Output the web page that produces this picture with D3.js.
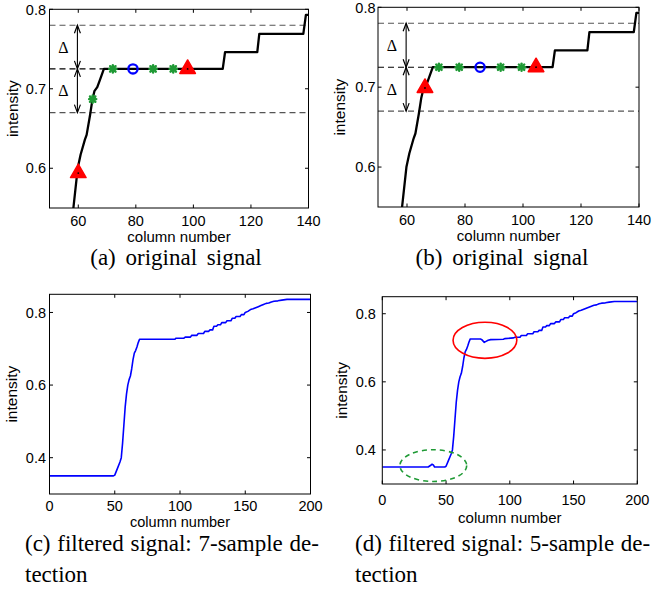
<!DOCTYPE html>
<html>
<head>
<meta charset="utf-8">
<script src="https://cdn.jsdelivr.net/npm/d3@7"></script>
<style>
body{margin:0;background:#fff;}
text{fill:#000;}
</style>
</head>
<body>
<svg id="fig" width="653" height="589"></svg>
<script>
// ---- data ----
// original signal (panels a and b)
const origCols = [57.8, 58.3, 59.8, 60.8, 62.3, 62.9, 64.1, 64.9, 65.6, 66.6, 67.5, 68.9, 110.2, 111, 122.2, 122.9, 138.2, 139.1, 140];
const origVals = [0.53, 0.55, 0.60, 0.617, 0.636, 0.642, 0.667, 0.686, 0.697, 0.702, 0.711, 0.725, 0.725, 0.746, 0.746, 0.769, 0.769, 0.793, 0.793];
const thresholds = [0.78, 0.725, 0.67];

// markers (a)
const aTriangles = [[60, 0.594], [98, 0.725]];
const aStars = [[65, 0.687], [72, 0.725], [86, 0.725], [93, 0.725]];
const aCircles = [[79, 0.725]];
// markers (b)
const bTriangles = [[66.2, 0.699], [104.5, 0.725]];
const bStars = [[71, 0.725], [78, 0.725], [92.3, 0.725], [99.5, 0.725]];
const bCircles = [[85.2, 0.725]];

// filtered signal, 7-sample detection (c)
const cCols = [0, 49, 50, 52, 54, 55, 56, 57, 58, 59, 60, 61, 62, 63, 64, 65, 66, 67, 68, 69, 96, 97, 103, 104, 108, 109, 113, 114, 118, 119, 122, 123, 125, 126, 128, 129, 131, 132, 135, 136, 139, 140, 142, 143, 146, 147, 149, 150, 152, 154, 156, 158, 160, 162, 164, 166, 168, 170, 172, 175, 178, 182, 200];
const cVals = [0.35, 0.35, 0.352, 0.37, 0.388, 0.40, 0.44, 0.49, 0.54, 0.575, 0.60, 0.615, 0.625, 0.645, 0.67, 0.688, 0.695, 0.705, 0.717, 0.726, 0.726, 0.729, 0.729, 0.732, 0.732, 0.737, 0.737, 0.742, 0.742, 0.748, 0.748, 0.752, 0.752, 0.762, 0.762, 0.766, 0.766, 0.772, 0.772, 0.777, 0.777, 0.784, 0.784, 0.789, 0.789, 0.794, 0.794, 0.80, 0.803, 0.808, 0.81, 0.813, 0.816, 0.819, 0.822, 0.825, 0.826, 0.829, 0.831, 0.832, 0.834, 0.836, 0.836];

// filtered signal, 5-sample detection (d)
const dCols = [0, 36, 38, 39, 40, 41, 49, 50, 52, 54, 55, 56, 57, 58, 59, 60, 61, 62, 63, 64, 65, 66, 67, 68, 69, 77, 78, 80, 81, 83, 85, 95, 96, 103, 104, 108, 109, 113, 114, 118, 119, 122, 123, 125, 126, 128, 129, 131, 132, 135, 136, 139, 140, 142, 143, 146, 147, 149, 150, 152, 154, 156, 158, 160, 162, 164, 166, 168, 170, 172, 175, 178, 182, 200];
const dVals = [0.35, 0.35, 0.355, 0.358, 0.356, 0.35, 0.35, 0.352, 0.37, 0.388, 0.40, 0.44, 0.49, 0.54, 0.575, 0.60, 0.615, 0.625, 0.645, 0.67, 0.688, 0.695, 0.705, 0.717, 0.726, 0.726, 0.724, 0.716, 0.718, 0.722, 0.724, 0.725, 0.727, 0.729, 0.731, 0.731, 0.736, 0.736, 0.741, 0.741, 0.747, 0.747, 0.751, 0.751, 0.761, 0.761, 0.765, 0.765, 0.771, 0.771, 0.776, 0.776, 0.783, 0.783, 0.788, 0.788, 0.793, 0.793, 0.80, 0.803, 0.808, 0.81, 0.813, 0.816, 0.819, 0.822, 0.825, 0.826, 0.829, 0.831, 0.832, 0.834, 0.836, 0.836];
const redEllipse = {cx: 80.5, cy: 0.722, rx: 25, ry: 0.053};
const greenEllipse = {cx: 40, cy: 0.354, rx: 26.2, ry: 0.0465};

const abXTicks = [60, 80, 100, 120, 140];
const abYTicks = [0.6, 0.7, 0.8];
const cdXTicks = [0, 50, 100, 150, 200];
const cdYTicks = [0.4, 0.6, 0.8];

const captions = {
  a: ["(a) original signal"],
  b: ["(b) original signal"],
  c: ["(c) filtered signal: 7-sample de-", "tection"],
  d: ["(d) filtered signal: 5-sample de-", "tection"]
};

const svg = d3.select("#fig");
const sans = "'Liberation Sans', Arial, sans-serif";
const serif = "'Liberation Serif', 'Times New Roman', serif";

function makePanel(opt){
  const x = d3.scaleLinear().domain(opt.xDomain).range([opt.left, opt.right]);
  const y = d3.scaleLinear().domain(opt.yDomain).range([opt.bottom, opt.top]);
  const g = svg.append("g").attr("id", "panel-" + opt.id);

  g.append("clipPath").attr("id", "clip-" + opt.id)
    .append("rect")
    .attr("x", opt.left).attr("y", opt.top)
    .attr("width", opt.right - opt.left).attr("height", opt.bottom - opt.top);

  // ticks inward, mirrored on all four sides
  const tl = 3.5;
  opt.xTicks.forEach(t => {
    g.append("line").attr("x1", x(t)).attr("x2", x(t)).attr("y1", opt.bottom).attr("y2", opt.bottom - tl).attr("stroke", "#000");
    g.append("line").attr("x1", x(t)).attr("x2", x(t)).attr("y1", opt.top).attr("y2", opt.top + tl).attr("stroke", "#000");
    g.append("text").attr("x", x(t)).attr("y", opt.bottom + opt.xTickGap)
      .attr("text-anchor", "middle").style("font-family", sans).style("font-size", "14.5px").text(t);
  });
  opt.yTicks.forEach(t => {
    g.append("line").attr("x1", opt.left).attr("x2", opt.left + tl).attr("y1", y(t)).attr("y2", y(t)).attr("stroke", "#000");
    g.append("line").attr("x1", opt.right).attr("x2", opt.right - tl).attr("y1", y(t)).attr("y2", y(t)).attr("stroke", "#000");
    g.append("text").attr("x", opt.left - opt.yTickGap).attr("y", y(t)).attr("dy", "0.36em")
      .attr("text-anchor", "end").style("font-family", sans).style("font-size", "14.5px").text(d3.format(".1f")(t));
  });

  g.append("text").attr("x", (opt.left + opt.right) / 2).attr("y", opt.bottom + opt.xLabelGap)
    .attr("text-anchor", "middle").style("font-family", sans).style("font-size", (opt.xLabelSize || 15) + "px").text("column number");
  g.append("text")
    .attr("transform", `translate(${opt.yLabelX},${(opt.top + opt.bottom) / 2}) rotate(-90)`)
    .attr("dy", "0.35em")
    .attr("text-anchor", "middle").style("font-family", sans).style("font-size", "15.5px").text("intensity");

  const cap = g.append("text").style("font-family", serif).style("font-size", "23px")
    .style("word-spacing", opt.capWordSpacing + "px")
    .attr("text-anchor", opt.capAnchor);
  captions[opt.id].forEach((line, i) => {
    cap.append("tspan").attr("x", opt.capX).attr("y", opt.capY + i * 31).text(line);
  });

  const plot = g.append("g").attr("clip-path", `url(#clip-${opt.id})`);
  return {x, y, g, plot, opt};
}

function finishBox(p){
  const o = p.opt;
  p.g.append("rect").attr("x", o.left).attr("y", o.top)
    .attr("width", o.right - o.left).attr("height", o.bottom - o.top)
    .attr("fill", "none").attr("stroke", "#000").attr("stroke-width", 1);
}

function originalPanel(opt, tris, stars, circs){
  const p = makePanel(opt);
  const {x, y, plot} = p;
  // threshold lines
  [thresholds[0], thresholds[2]].forEach(v => {
    plot.append("line").attr("x1", opt.left).attr("x2", opt.right)
      .attr("y1", y(v)).attr("y2", y(v))
      .attr("stroke", "#555").attr("stroke-width", 1.1).attr("stroke-dasharray", "6,4");
  });
  plot.append("line").attr("x1", opt.left).attr("x2", x(69))
    .attr("y1", y(thresholds[1])).attr("y2", y(thresholds[1]))
    .attr("stroke", "#000").attr("stroke-width", 1.1).attr("stroke-dasharray", "6,4");

  const line = d3.line().x((d, i) => x(origCols[i])).y(d => y(d));
  plot.append("path").datum(origVals).attr("d", line)
    .attr("fill", "none").attr("stroke", "#000").attr("stroke-width", 2.3).attr("stroke-linejoin", "round");

  // delta arrows
  const ax = x(59.7);
  const head = (yy, dir) => `M${ax - 3},${yy - dir * 8}L${ax},${yy}L${ax + 3},${yy - dir * 8}`;
  [[thresholds[0], thresholds[1]], [thresholds[1], thresholds[2]]].forEach(([a, b]) => {
    plot.append("line").attr("x1", ax).attr("x2", ax).attr("y1", y(a)).attr("y2", y(b)).attr("stroke", "#000").attr("stroke-width", 1.1);
    plot.append("path").attr("d", head(y(a), -1)).attr("fill", "none").attr("stroke", "#000").attr("stroke-width", 1.2);
    plot.append("path").attr("d", head(y(b), 1)).attr("fill", "none").attr("stroke", "#000").attr("stroke-width", 1.2);
    p.g.append("text").attr("x", x(54.8)).attr("y", y((a + b) / 2)).attr("dy", "0.35em")
      .attr("text-anchor", "middle").style("font-family", serif).style("font-size", "16px").text("Δ");
  });

  // markers
  stars.forEach(d => {
    const cx = x(d[0]), cy = y(d[1]), r = 3.6;
    const s = plot.append("g").attr("stroke", "#1f9a35").attr("stroke-width", 2.4).attr("stroke-linecap", "round");
    s.append("line").attr("x1", cx - r).attr("x2", cx + r).attr("y1", cy).attr("y2", cy);
    s.append("line").attr("x1", cx).attr("x2", cx).attr("y1", cy - r).attr("y2", cy + r);
    s.append("line").attr("x1", cx - r * 0.75).attr("x2", cx + r * 0.75).attr("y1", cy - r * 0.75).attr("y2", cy + r * 0.75);
    s.append("line").attr("x1", cx - r * 0.75).attr("x2", cx + r * 0.75).attr("y1", cy + r * 0.75).attr("y2", cy - r * 0.75);
  });
  circs.forEach(d => {
    plot.append("circle").attr("cx", x(d[0])).attr("cy", y(d[1])).attr("r", 4.6)
      .attr("fill", "none").attr("stroke", "#0000ff").attr("stroke-width", 2.3);
  });
  tris.forEach(d => {
    plot.append("path").attr("transform", `translate(${x(d[0])},${y(d[1])})`)
      .attr("d", d3.symbol().type(d3.symbolTriangle).size(105)())
      .attr("fill", "#ff0000").attr("stroke", "#ff0000").attr("stroke-width", 1.5).attr("stroke-linejoin", "round");
    plot.append("circle").attr("cx", x(d[0])).attr("cy", y(d[1])).attr("r", 0.9).attr("fill", "#000");
  });
  finishBox(p);
  return p;
}

function filteredPanel(opt, cols, vals){
  const p = makePanel(opt);
  const {x, y, plot} = p;
  const line = d3.line().x((d, i) => x(cols[i])).y(d => y(d));
  plot.append("path").datum(vals).attr("d", line)
    .attr("fill", "none").attr("stroke", "#0000ff").attr("stroke-width", 1.6).attr("stroke-linejoin", "round");
  finishBox(p);
  return p;
}

originalPanel({id: "a", left: 49.5, right: 308.5, top: 9.3, bottom: 208, xDomain: [50, 140], yDomain: [0.55, 0.8],
  xTicks: abXTicks, yTicks: abYTicks, xTickGap: 18, yTickGap: 3.5, xLabelGap: 33.5, yLabelX: 13,
  capX: 176, capY: 265, capAnchor: "middle", capWordSpacing: 4}, aTriangles, aStars, aCircles);

originalPanel({id: "b", left: 378, right: 639, top: 7.3, bottom: 207, xDomain: [50, 140], yDomain: [0.55, 0.8],
  xTicks: abXTicks, yTicks: abYTicks, xTickGap: 18, yTickGap: 2.5, xLabelGap: 33.5, yLabelX: 340,
  capX: 502, capY: 265, capAnchor: "middle", capWordSpacing: 4}, bTriangles, bStars, bCircles);

filteredPanel({id: "c", left: 49.5, right: 310.5, top: 294.3, bottom: 494, xDomain: [0, 200], yDomain: [0.3, 0.85],
  xTicks: cdXTicks, yTicks: cdYTicks, xTickGap: 16.5, yTickGap: 3.5, xLabelGap: 32.7, xLabelSize: 14.5, yLabelX: 12,
  capX: 25, capY: 550.5, capAnchor: "start", capWordSpacing: 1}, cCols, cVals);

const dPanel = filteredPanel({id: "d", left: 382.3, right: 637.3, top: 296.7, bottom: 484, xDomain: [0, 200], yDomain: [0.3, 0.85],
  xTicks: cdXTicks, yTicks: cdYTicks, xTickGap: 20.5, yTickGap: 6.5, xLabelGap: 39, yLabelX: 342,
  capX: 355, capY: 550.5, capAnchor: "start", capWordSpacing: 1}, dCols, dVals);

// annotation ellipses on panel (d)
dPanel.g.append("ellipse")
  .attr("cx", dPanel.x(redEllipse.cx)).attr("cy", dPanel.y(redEllipse.cy))
  .attr("rx", dPanel.x(redEllipse.cx + redEllipse.rx) - dPanel.x(redEllipse.cx))
  .attr("ry", dPanel.y(redEllipse.cy - redEllipse.ry) - dPanel.y(redEllipse.cy))
  .attr("fill", "none").attr("stroke", "#ff0000").attr("stroke-width", 1.6);
dPanel.g.append("ellipse")
  .attr("cx", dPanel.x(greenEllipse.cx)).attr("cy", dPanel.y(greenEllipse.cy))
  .attr("rx", dPanel.x(greenEllipse.cx + greenEllipse.rx) - dPanel.x(greenEllipse.cx))
  .attr("ry", dPanel.y(greenEllipse.cy - greenEllipse.ry) - dPanel.y(greenEllipse.cy))
  .attr("fill", "none").attr("stroke", "#1f9a35").attr("stroke-width", 1.6).attr("stroke-dasharray", "5,4");
</script>
</body>
</html>
